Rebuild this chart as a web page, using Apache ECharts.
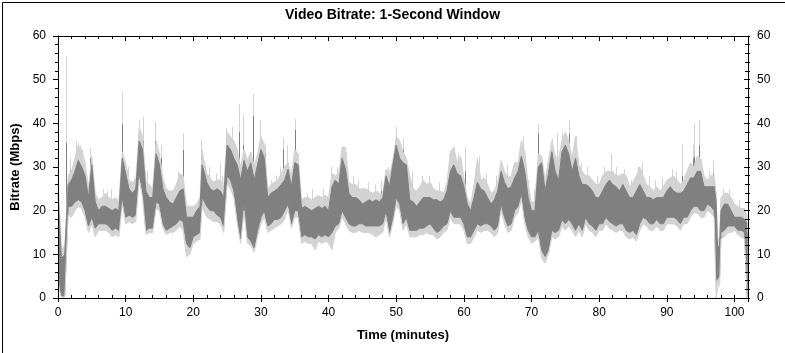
<!DOCTYPE html>
<html>
<head>
<meta charset="utf-8">
<script src="https://cdn.jsdelivr.net/npm/echarts@6/dist/echarts.min.js"></script>
<style>
html,body{margin:0;padding:0;background:#fff;}
#chart{width:785px;height:353px;}
</style>
</head>
<body>
<div id="chart"></div>
<script>
// ---- data (minutes, Mbps) ----
const times = [
  0,0.5,1,1.5,2,2.5,3,3.5,4,4.5,
  5,5.5,6,6.5,7,7.5,8,8.5,9,9.5,
  10,10.5,11,11.5,12,12.5,13,13.5,14,14.5,
  15,15.5,16,16.5,17,17.5,18,18.5,19,19.5,
  20,20.5,21,21.3,21.5,22,22.5,23,23.5,24,
  24.5,25,25.5,26,26.5,27,27.5,28,28.5,29,
  29.5,30,30.5,31,31.5,32,32.5,33,33.5,34,
  34.5,35,35.5,36,36.5,37,37.5,38,38.5,39,
  39.5,40,40.5,41,41.5,42,42.5,43,43.5,44,
  44.5,45,45.5,46,46.5,47,47.5,48,48.5,49,
  49.5,50,50.5,51,51.5,52,52.5,53,53.5,54,
  54.5,55,55.5,56,56.5,57,57.5,58,58.5,59,
  59.5,60,60.5,61,61.5,62,62.5,63,63.5,64,
  64.5,65,65.5,66,66.5,67,67.5,68,68.5,69,
  69.5,70,70.5,71,71.5,72,72.5,73,73.5,74,
  74.5,75,75.5,76,76.5,77,77.5,78,78.5,79,
  79.5,80,80.5,81,81.5,82,82.5,83,83.5,84,
  84.5,85,85.5,86,86.5,87,87.5,88,88.5,89,
  89.5,90,90.5,91,91.5,92,92.5,93,93.5,94,
  94.5,95,95.5,96,96.5,97,97.3,97.5,97.8,98,
  98.5,99,99.5,100,100.5,101,101.5,101.9
];
const darkHigh = [
  24,9,10,26,27,29,31.5,30,28,23,
  30.5,22,20,21,21,20.5,20,20.5,20,32,
  28.5,25,24,25,36,34,24.5,23,23,33,
  30.5,25,23,22,21.5,23,24.5,25,18.5,18.5,
  18.5,20,21,30.5,29.5,26.5,25,24.5,25,24.5,
  23,35,34,32,30.5,27,31.5,29,31,27,
  30.5,34,32,23,24,24.5,25,26,27,29.5,
  25.5,31,30.5,20.5,21,20.5,20,20.5,21,20.5,
  21,20,25.5,27,26,32,29.5,24,23,23,
  22.5,21.5,22,22.5,22,22.5,22,23,28,25.5,
  30.5,35,32,31,30.5,22.5,22,21,22,23,
  23,23,22.5,22.5,22,22.5,24.5,29,30.5,28.5,
  28,25.5,21.5,20,23,26.5,25,24.5,23,21.5,
  22.5,24.5,29,26.5,25,25.5,27.5,29,32.5,29,
  23,20,20,30,31,24.5,28.5,33.5,29,27,
  33.5,35,33,29,32,28,26,26,25.5,24.5,
  23,23,24.5,26,27,26,25.5,24.5,26,24.5,
  23,23,24.5,26,24.5,23,23,22.5,23,23,
  23,24.5,25.5,24.5,24,24,24.5,26,27.5,27.5,
  29,29,25.5,25.5,25.5,25.5,22,11.5,12,20,
  21.5,21.5,20,18.5,18.5,18.5,18,17
];
const darkLow = [
  6,0.5,0.5,21,21,22,22.5,22,20,16.5,
  18.5,16,17,17,17,16.5,15.5,16,15.5,23,
  18.5,19,18.5,19,28.5,24.5,15.5,16,16,22,
  21.5,17,15.5,16,16.5,17,18,17.5,12.5,11.5,
  14,14.5,15,23,22.5,21,20,20,19,18.5,
  16.5,28,27,24.5,18.5,13.5,21.5,14,13,11.5,
  15.5,18.5,20,16.5,17,18,18,18.5,20,21.5,
  17,20,20,14,14.5,14,14,13.5,14.5,14,
  14.5,14,15,16.5,17,20,18.5,17,16.5,16.5,
  17,17,16.5,16.5,16.5,16.5,16.5,17,20,15,
  18.5,23,21.5,17,18.5,15.5,15.5,15.5,16,16,
  16.5,17,16,15,15.5,16.5,17,20,18.5,18.5,
  18.5,17,14,14,15.5,17,16.5,17,17,16.5,
  15.5,16.5,21.5,18.5,16.5,17,20,21,24,18.5,
  15.5,14,14,15.5,11,9.5,11,15.5,15,15.5,
  18,17,18,17,15.5,17,15.5,18.5,17,16.5,
  15.5,17,17,18.5,17.5,17,16.5,17,17,15.5,
  15,15.5,14.5,17,18.5,18,17,17,18,17,
  17,18.5,18.5,18.5,18,17,18.5,18.5,20,21,
  21,20,20,21.5,21,20,4,4,5,15,
  15.5,16.5,16.5,16.5,15.5,15.5,15,0
];
const lightHigh = [
  28,11,12,28,29,32,35,34,31,25,
  32.5,24,22.5,23,24,23,22.5,23,22,33.5,
  31,27,26.5,27,39,37,26.5,26,25,36,
  33,27.5,25,24.5,24.5,26,28.5,28,21,21,
  21,21.5,23,34,32,28.5,27.5,26.5,27,27,
  25.5,38,37,36,34,30,34,31.5,33.5,30,
  33,37,35,25,26,26.5,27,28.5,30,31,
  28,34,33,22.5,23,23,22.5,23,23.5,23,
  23.5,23,28.5,28,28.5,34.5,34.5,26.5,26,26,
  25,25,25,24.5,24,24.5,24,24,29.5,28.5,
  31.5,37,36,33.5,32,28,25,24.5,25.5,27,
  26,26.5,25,24.5,24.5,24,26.5,33.5,34.5,31,
  32.5,27.5,23,21.5,26,32,27,27.5,26,24,
  24.5,26.5,31.5,29,27.5,28,31,31,36,33.5,
  26,22,22,33,32.5,27,31.5,36,32.5,32,
  36,38,36,32,37,30.5,29,28,28,27,
  26,26,28,29,29,29,28,28,28.5,28,
  25.5,26.5,28,30,28,26,25.5,24.5,25.5,24.5,
  25.5,27,27.5,28,27,26,27,29,31,30,
  32.5,32,28,27,28,28,24,13,14,23,
  24,24,23,21.5,21,20.5,20.5,18.5
];
const lightLow = [
  3,0,0,19,18.5,20,21,20.5,18.5,15,
  17,14,15.5,15.5,15.5,15,14,14.5,14,21.5,
  17,17.5,17,17.5,27,23,14.5,15,15,20.5,
  20,16,14.5,15,15,15.5,16.5,15.5,9.5,10,
  12.5,13,13.5,21,21,18.5,18,17.5,17.5,17,
  15,26,25,23,17,12.5,20,12.5,12,10.5,
  14,17,18.5,15,15.5,16,16.5,17,18,20.5,
  16,18.5,18.5,12.5,13,12.5,12.5,11,13,12.5,
  13,12.5,11,15,16,18.5,17,15.5,15,15,
  15.5,15,15,15,14.5,14,14.5,15,18.5,14,
  17,21,20,15.5,17,14,14,14,14.5,14.5,
  15,14.5,14.5,13.5,14,15,15.5,18.5,17,17,
  17,15.5,12.5,12.5,14,15.5,15,15.5,15.5,15,
  14,15,20,17,15,15.5,18.5,19.5,22.5,17,
  14,12.5,13,14,9,8,10,14,13.5,14,
  16.5,15.5,16.5,15.5,14,15.5,14,17,15.5,15,
  14,15.5,15.5,17,16,15.5,15,15.5,15.5,14,
  13.5,14,13,15.5,17,16.5,15.5,15.5,16.5,15.5,
  15.5,17,17,17,16.5,15.5,17,17,18.5,19.5,
  19.5,18.5,18.5,20,19.5,18.5,0,2.5,3,13.5,
  14,15,15,15.5,14.5,14,13.5,0
];
// tall short peaks
const spikeTimes = [1.2,2.6,3.3,4.8,9.4,12.0,12.6,14.3,18.5,21.2,24.0,24.9,25.7,26.7,27.3,28.8,29.9,30.6,33.2,33.8,35.0,42.2,49.9,51.0,58.6,60.1,62.3,68.8,71.0,73.0,73.7,74.5,75.5,76.5,81.8,92.2,93.8,94.0,94.8];
const spikeDark  = [35.5,32,33.5,32,39.8,38.5,36,36,33.9,32.7,27,36.4,34,38,35,41.7,36,33,34,30.8,38.5,32.4,35.8,34,31,29,28,34.7,37.6,34.5,32,35.4,37.6,33,29,28,32,32.4,35];
const spikeLight = [55.4,36,35,34.4,47.4,40.8,41.5,40.3,37.8,36.2,31,38.9,39.2,44.4,42,46.7,40.8,35.4,36.6,35,41.1,34.7,39.2,36.6,34.7,34.6,32.4,37,39.8,36.5,37.7,38,40.8,37,33,35,35,40,40.8];
const spikeBase  = [1,22,22,20,18,28,24,20,18,18,19,20,27,20,18,14,18,20,19,21,20,20,23,18,19,18,17,22,15,16,15,18,18,16,18,18,20,21,20];
// smaller peaks
const smallPeakTimes = [1.7,2.9,3.6,6.6,7.3,7.9,10.3,11.3,13.2,15.2, 17.8,20.7,22.3,23.4,24.3,31.5,32.2,32.8,36.8,37.6, 39.2,40.3,41.3,43.6,44.3,45.8,46.8,47.7,48.8,52.3, 53.8,54.8,56.3,57.8,59.2,61.8,63.2,64.8,66.3,67.2, 69.5,70.3,72.7,77.3,78.2,79.7,80.7,82.5,83.7,84.7, 85.7,86.3,87.3,88.3,89.3,90.7,91.3,93.2,96.2,96.8, 98.3,99.2,100.7];
const smallPeakLight = [32,35.5,34,25,24.5,25,30,27.5,29,35, 29,22,30,28.5,28,27,28,30,24,25, 25,30,30,28,27,26.5,26,27,30,29, 28,28,26.5,28,33,29,28.5,28,30.5,30, 27,25,33,31,30,28,30,30,29.5,27, 30,31,28,27,27.5,29.5,29,30,29,31.5, 25,25,22.5];
const smallPeakDark = [29,32.5,31,22.5,22,22.5,27,25,26,32, 26,20,27,26,25.5,24.5,25.5,27,21.5,22.5, 22,27,27,25.5,24.5,24,23.5,24.5,27,26, 25.5,25.5,24,25.5,30,26,26,25.5,28,27, 24.5,22,30,28,27,25.5,27,27,27,24.5, 27,28,25.5,24.5,25,27,26.5,27.5,27,28.5, 23,23,20.5];
const smallPeakBase = [22,23,22,18,18,17,20,20,17,22, 19,16,22,21,20,18,19,20,16,16, 16,17,18,18,18,18,18,18,18,18, 17,18,17,18,20,16,18,18,19,19, 17,15,18,18,19,17,18,18,18,17, 18,19,18,18,18,19,19,20,22,22, 17,17,16];
// deep short drops
const dipTimes  = [2.2,5.6,8.8,19.3,27.2,28.9,40.7,49.2,55.1,60.3,72.0,83.3,91.4,97.3,101.9];
const dipValues = [14,8,11.5,10,11.5,11,11,12,11,12.5,8,12.5,12.5,0,0];
const dipFrom   = [21,16,16,13,15,13,15,15,17,15,11,17,18,20,15];
// smaller drops
const smallDipTimes = [4.3,6.8,10.6,13.7,16.2,20.2,22.7,24.4,31.2,36.3, 38.2,39.7,42.8,45.3,47.2,52.7,56.2,61.1,64.6,66.8, 70.2,74.2,77.6,79.6,84.6,85.6,87.8,89.8,92.6,99.8, 101.3];
const smallDipDark  = [15,14.5,16,14,13.5,12.5,17,15,14.5,12.5, 11.5,12.5,14.5,13.5,13.5,13,12.5,12.5,13,13.5, 12.5,13,12.5,13,12.5,12,14,14,14.5,14.5, 11.5];
const smallDipLight = [13.5,13,14.5,12.5,12,11,15.5,13.5,13,11, 10,11,13,12,12,11.5,11,11,11.5,12, 11,11.5,11,11.5,11,10.5,12.5,12.5,13,13, 10];
const smallDipFrom  = [20,17,19,16,16,14.5,20,17,17,14.5, 14,14.5,17,17,17,16,15.5,14.5,16,17, 14.5,16,16,16,15.5,15,17.5,17.5,18,17, 15];

const xTickMajor = 10, xTickMinor = 2, yTickMajor = 10, yTickMinor = 2;

// ---- chart ----
const DARK = '#808080', LIGHT = '#d3d3d3';
const FONT = '"Liberation Sans", Arial, sans-serif';
const chart = echarts.init(document.getElementById('chart'), null, {renderer:'canvas'});

const pairs = arr => times.map((t, i) => [t, arr[i]]);
function area(arr, color, lineColor) {
  return {
    type:'line', xAxisIndex:0, yAxisIndex:0, data:pairs(arr), showSymbol:false, symbol:'none',
    smooth:false, sampling:null, silent:true,
    lineStyle:{color:lineColor, width:1}, areaStyle:{color:color, opacity:1}
  };
}
function vline(color) {
  return function (params, api) {
    const x = api.value(0);
    const a = api.coord([x, api.value(1)]);
    const b = api.coord([x, api.value(2)]);
    const px = Math.round(a[0]) + 0.5;
    return {type:'line', shape:{x1:px, y1:a[1], x2:px, y2:b[1]}, style:{stroke:color, lineWidth:1}, silent:true};
  };
}
function custom(ts, tops, bases, color) {
  return {type:'custom', xAxisIndex:0, yAxisIndex:0, data:ts.map((t, i) => [t, tops[i], bases[i]]),
          renderItem:vline(color), encode:{x:0, y:[1,2]}, silent:true, clip:true};
}

const lbl = {fontFamily:FONT, fontSize:12, color:'#000'};
function xa(extra) {
  return Object.assign({type:'value', min:0, max:102, splitLine:{show:false},
    axisLine:{show:false, onZero:false}, axisLabel:{show:false}, axisTick:{show:false}, z:10}, extra);
}
function ya(extra) {
  return Object.assign({type:'value', min:0, max:60, splitLine:{show:false},
    axisLine:{show:false, onZero:false}, axisLabel:{show:false}, axisTick:{show:false}, z:10}, extra);
}
const axisLineOn = {show:true, onZero:false, lineStyle:{color:'#000', width:1}};
const tk = (inside, len) => ({show:true, inside:inside, length:len, lineStyle:{color:'#000', width:1}});
const g = {left:58, right:37, top:36, bottom:55};
const nameStyle = {fontFamily:FONT, fontWeight:'bold', fontSize:13, color:'#000'};

const option = {
  animation:false,
  backgroundColor:'#fff',
  title:{text:'Video Bitrate: 1-Second Window', left:'center', top:3,
    textStyle:{fontFamily:FONT, fontWeight:'bold', fontSize:14, color:'#000'}},
  grid:[Object.assign({}, g), Object.assign({}, g), Object.assign({}, g)],
  xAxis:[
    xa({gridIndex:0, position:'bottom', interval:xTickMajor, axisLine:axisLineOn, axisTick:tk(false,4),
        axisLabel:Object.assign({show:true, margin:9, formatter:v => (v % 10 === 0 ? String(v) : '')}, lbl),
        name:'Time (minutes)', nameLocation:'middle', nameGap:31, nameTextStyle:nameStyle}),
    xa({gridIndex:0, position:'top', interval:xTickMajor, axisLine:axisLineOn, axisTick:tk(true,5)}),
    xa({gridIndex:1, position:'bottom', interval:xTickMinor, axisTick:tk(true,3)}),
    xa({gridIndex:1, position:'top', interval:xTickMinor, axisTick:tk(true,3)}),
    xa({gridIndex:2, position:'bottom', show:false})
  ],
  yAxis:[
    ya({gridIndex:0, position:'left', interval:yTickMajor, axisLine:axisLineOn, axisTick:tk(false,5),
        axisLabel:Object.assign({show:true, margin:12}, lbl),
        name:'Bitrate (Mbps)', nameLocation:'middle', nameGap:36, nameRotate:90, nameTextStyle:nameStyle}),
    ya({gridIndex:0, position:'right', interval:yTickMajor, axisLine:axisLineOn, axisTick:tk(true,4),
        axisLabel:Object.assign({show:true, margin:9}, lbl)}),
    ya({gridIndex:1, position:'left', interval:yTickMinor, axisTick:tk(false,3)}),
    ya({gridIndex:1, position:'right', interval:yTickMinor, axisTick:tk(true,3)}),
    ya({gridIndex:2, position:'right', interval:yTickMinor, axisTick:tk(false,2)})
  ],
  series:[
    area(lightHigh, LIGHT, LIGHT),
    custom(spikeTimes, spikeLight, spikeBase, LIGHT),
    custom(smallPeakTimes, smallPeakLight, smallPeakBase, LIGHT),
    area(darkHigh, DARK, DARK),
    custom(spikeTimes, spikeDark, spikeBase, DARK),
    custom(smallPeakTimes, smallPeakDark, smallPeakBase, DARK),
    area(darkLow, LIGHT, DARK),
    area(lightLow, '#ffffff', LIGHT),
    custom(smallDipTimes, smallDipLight, smallDipFrom, LIGHT),
    custom(smallDipTimes, smallDipDark, smallDipFrom, DARK),
    custom(dipTimes, dipValues, dipFrom, DARK)
  ],
  graphic:[{type:'rect', left:0, top:0, z:100, silent:true,
    shape:{x:0.5, y:0.5, width:784, height:352}, style:{fill:null, stroke:'#000', lineWidth:1}}]
};
chart.setOption(option);
</script>
</body>
</html>
